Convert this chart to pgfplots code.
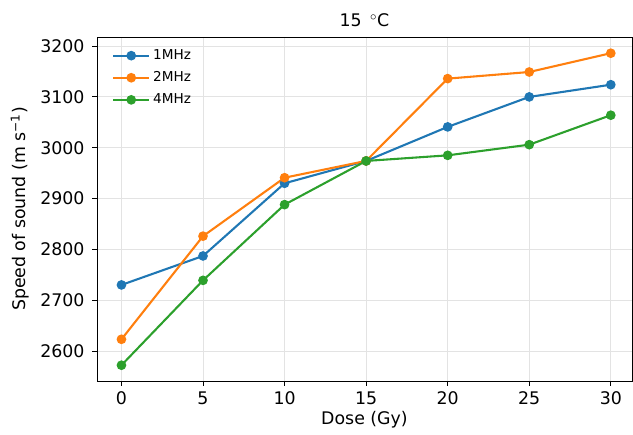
\documentclass[border=0pt]{standalone}
\usepackage{fontspec}
\setmainfont{DejaVu Sans}
\usepackage{pgfplots}
\pgfplotsset{compat=1.18}
\definecolor{c1}{HTML}{1F77B4}
\definecolor{c2}{HTML}{FF7F0E}
\definecolor{c3}{HTML}{2CA02C}
\begin{document}
\begin{tikzpicture}
\begin{axis}[
  at={(0,0)}, anchor=south west,
  scale only axis, width=385.2pt, height=247.7pt,
  xmin=-1.5, xmax=31.3, ymin=2541, ymax=3218,
  xtick={0,5,...,30}, ytick={2600,2700,...,3200},
  tick align=outside, major tick length=3.5pt,
  xtick pos=bottom, ytick pos=left,
  tick style={black, line width=0.6pt},
  axis line style={line width=0.6pt},
  grid=major, major grid style={gray!22, line width=0.6pt},
  /pgf/number format/assume math mode=true,
  /pgf/number format/1000 sep={},
  tick label style={font=\fontsize{12.5}{15}\selectfont},
  xticklabel style={yshift=-0.5pt},
  yticklabel style={xshift=-2pt},
  label style={font=\fontsize{12.5}{15}\selectfont},
  xlabel={Dose (Gy)},
  xlabel style={yshift=2pt},
  ylabel={Speed of sound (m s\textsuperscript{\char"2212 1})},
  ylabel style={yshift=1pt},
  title={15\ \,$^\circ$C},
  title style={font=\fontsize{12.5}{15}\selectfont, yshift=-2.5pt},
  legend style={at={(0.02,0.98)}, anchor=north west, draw=none, fill=none,
    font=\fontsize{9.8}{11.5}\selectfont, row sep=3.2pt},
  legend cell align=left,
  legend image code/.code={\draw[#1,mark repeat=2,mark phase=2] plot coordinates {(0pt,0pt)(13pt,0pt)(26pt,0pt)};},
  every axis plot/.append style={line width=1.5pt, mark=*, mark size=2.7pt, mark options={solid}},
]
\addplot[c1, mark options={fill=c1, draw=c1}] coordinates {(0,2730) (5,2787) (10,2930) (15,2974) (20,3041) (25,3100) (30,3124)};
\addlegendentry{1MHz}
\addplot[c2, mark options={fill=c2, draw=c2}] coordinates {(0,2623) (5,2826) (10,2941) (15,2974) (20,3136) (25,3149) (30,3186)};
\addlegendentry{2MHz}
\addplot[c3, mark options={fill=c3, draw=c3}] coordinates {(0,2572) (5,2739) (10,2888) (15,2974) (20,2985) (25,3006) (30,3064)};
\addlegendentry{4MHz}
\end{axis}
\pgfresetboundingbox
\useasboundingbox (-69.84pt,-38.9pt) rectangle (385.92pt,274.3pt);
\end{tikzpicture}
\end{document}
